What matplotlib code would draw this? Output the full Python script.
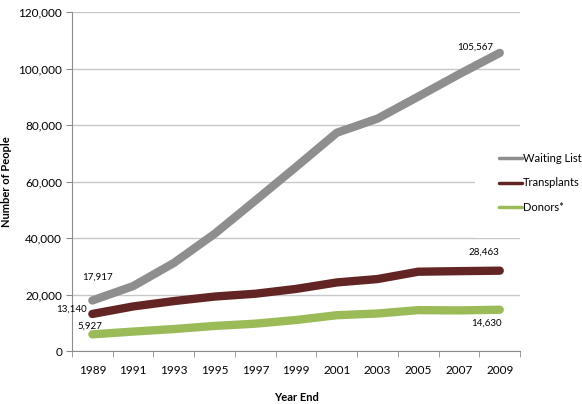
import matplotlib.pyplot as plt
from matplotlib.ticker import FuncFormatter

plt.rcParams['font.family'] = ['Lato', 'DejaVu Sans']

years = ["1989", "1991", "1993", "1995", "1997", "1999", "2001", "2003", "2005", "2007", "2009"]
waiting_list = [17917, 23000, 31200, 41500, 53300, 65200, 77300, 82300, 90100, 98000, 105567]
transplants = [13140, 15800, 17700, 19300, 20300, 22000, 24300, 25500, 28100, 28300, 28463]
donors = [5927, 6900, 7800, 8900, 9700, 11000, 12700, 13300, 14500, 14400, 14630]

fig = plt.figure(figsize=(5.82, 4.04), dpi=100)
ax = fig.add_axes([0.1237, 0.131, 0.77, 0.839])

x = list(range(len(years)))
lw = 6
ax.plot(x, waiting_list, color="#8e8e8e", lw=lw, solid_capstyle="round", solid_joinstyle="round", label="Waiting List")
ax.plot(x, transplants, color="#632523", lw=lw, solid_capstyle="round", solid_joinstyle="round", label="Transplants")
ax.plot(x, donors, color="#9bbb59", lw=lw, solid_capstyle="round", solid_joinstyle="round", label="Donors*")

ax.set_xlim(-0.5, len(years) - 0.5)
ax.set_ylim(0, 120000)
ax.set_yticks(range(0, 120001, 20000))
ax.yaxis.set_major_formatter(FuncFormatter(lambda v, p: f"{int(v):,}"))
ax.grid(axis="y", color="#c8c8c8", lw=1)
ax.set_axisbelow(True)

ax.set_xticks(x)
ax.set_xticklabels(years)
ax.set_xticks([i - 0.5 for i in range(len(years) + 1)], minor=True)
ax.tick_params(axis="x", which="major", length=0, pad=10, labelsize=8.5)
ax.tick_params(axis="x", which="minor", length=4, color="#8c8c8c")
ax.tick_params(axis="y", length=4, color="#8c8c8c", labelsize=8.5, pad=3)

for s in ["top", "right"]:
    ax.spines[s].set_visible(False)
for s in ["left", "bottom"]:
    ax.spines[s].set_color("#8c8c8c")

ax.set_ylabel("Number of People", fontsize=8, fontweight="bold")
ax.yaxis.set_label_coords(-0.134, 0.5)
ax.set_xlabel("Year End", fontsize=8, fontweight="bold")
ax.xaxis.set_label_coords(0.5, -0.121)

def lab(i, series, dx, dy, ha):
    ax.annotate(f"{series[i]:,}", (x[i], series[i]), xytext=(dx, dy),
                textcoords="offset pixels", ha=ha, va="center", fontsize=7)

lab(0, waiting_list, -10, 23, "left")
lab(0, transplants, -6, 5, "right")
lab(0, donors, -15, 8, "left")
lab(10, waiting_list, -7, 6, "right")
lab(10, transplants, -31, 18, "left")
lab(10, donors, -29, -13, "left")

leg = ax.legend(loc="center left", bbox_to_anchor=(475 / 582, 1 - 183 / 404),
                bbox_transform=fig.transFigure, borderaxespad=0, frameon=True, fontsize=8,
                handlelength=2.0, handletextpad=0.1, labelspacing=1.25, borderpad=2.2)
leg.get_frame().set_edgecolor("none")
leg.get_frame().set_facecolor("white")
leg.get_frame().set_alpha(1)
for h in leg.get_lines():
    h.set_linewidth(2.5)

fig.savefig("out.png", dpi=100)
